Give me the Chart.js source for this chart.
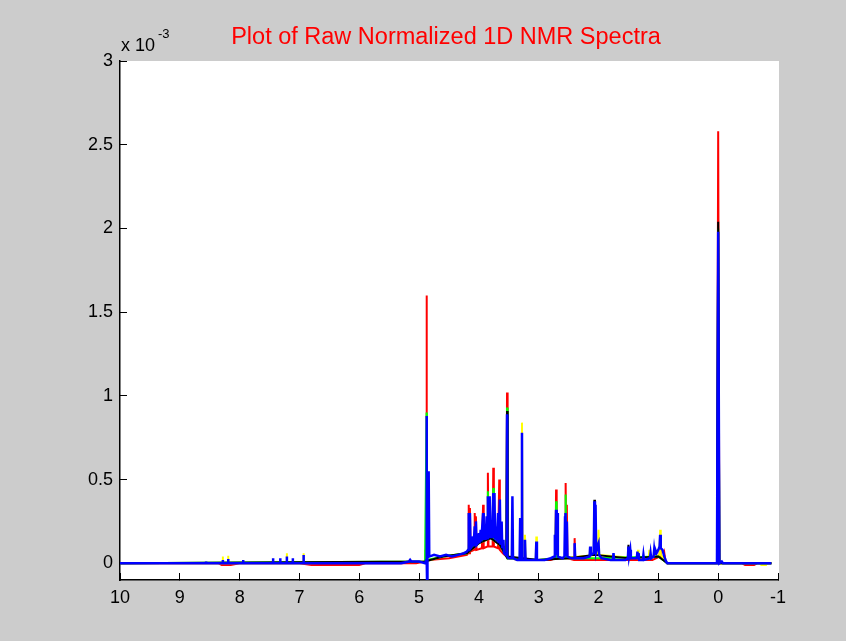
<!DOCTYPE html>
<html>
<head>
<meta charset="utf-8">
<title>Plot of Raw Normalized 1D NMR Spectra</title>
<script src="https://cdn.jsdelivr.net/npm/chart.js@4.4.1/dist/chart.umd.min.js"></script>
<style>
  html, body { margin: 0; padding: 0; background: #cccccc; }
  canvas { display: block; }
</style>
</head>
<body>
<canvas id="nmrChart" width="846" height="641"></canvas>
<script>
// Chemical shift (ppm) and intensity (x 10^-3) for each spectrum
const bluePpm = [10, 8.62, 8.56, 8.56, 8.56, 8.28, 8.28, 8.28, 8.19, 8.19, 8.19, 7.94, 7.94, 7.94, 7.44, 7.44, 7.44,
  7.32, 7.32, 7.32, 7.21, 7.21, 7.21, 7.11, 7.11, 7.11, 6.93, 6.93, 6.93,
  5.3, 5.17, 5.15, 5.13, 5.0, 4.9, 4.88, 4.875, 4.87, 4.865, 4.86, 4.84, 4.83, 4.75, 4.65, 4.55, 4.45, 4.35, 4.25, 4.2, 4.18,
  4.17, 4.165, 4.15, 4.14, 4.12, 4.1, 4.09, 4.07, 4.06, 4.05, 4.04, 4.02, 4.0, 3.99, 3.97, 3.96, 3.93, 3.92, 3.9, 3.89, 3.87, 3.86,
  3.85, 3.84, 3.82, 3.81, 3.79, 3.78, 3.76, 3.75, 3.74, 3.73, 3.71, 3.7, 3.68, 3.67, 3.65, 3.64, 3.62, 3.61, 3.59, 3.58, 3.55,
  3.535, 3.53, 3.525, 3.5, 3.45, 3.44, 3.43, 3.36, 3.32, 3.31, 3.3, 3.285, 3.28, 3.275, 3.24, 3.23, 3.22, 3.1, 3.05, 3.04, 3.03,
  2.9, 2.8, 2.74, 2.73, 2.72, 2.71, 2.7, 2.69, 2.68, 2.6, 2.57, 2.56, 2.555, 2.55, 2.54, 2.53, 2.52, 2.45, 2.41, 2.4, 2.39,
  2.25, 2.15, 2.14, 2.13, 2.08, 2.07, 2.06, 2.05, 2.04, 2.02, 2.0, 1.99, 1.95, 1.8, 1.76, 1.75, 1.74, 1.55, 1.51, 1.5, 1.49,
  1.47, 1.46, 1.4, 1.36, 1.35, 1.34, 1.33, 1.32, 1.26, 1.25, 1.24, 1.14, 1.13, 1.12, 1.08, 1.07, 1.06, 1.05, 1.03, 1.0, 0.98,
  0.97, 0.96, 0.93, 0.9, 0.87, 0.85, 0.02, 0, -0.02, -0.06, -0.08, -0.89]
const blueInt = [0, 0, 0, 0.01, 0, 0, 0.02, 0, 0, 0.025, 0, 0, 0.02, 0, 0, 0.03, 0,
  0, 0.03, 0, 0, 0.04, 0, 0, 0.03, 0, 0, 0.05, 0,
  0, 0.01, 0.02, 0.01, 0.01, 0, 0.02, 0.88, 0.02, -0.15, 0.03, 0.55, 0.04, 0.05, 0.04, 0.05, 0.04, 0.05, 0.06, 0.07, 0.08,
  0.3, 0.09, 0.3, 0.09, 0.1, 0.16, 0.1, 0.22, 0.11, 0.25, 0.11, 0.12, 0.18, 0.12, 0.2, 0.13, 0.3, 0.14, 0.22, 0.14, 0.28, 0.15,
  0.4, 0.15, 0.4, 0.15, 0.25, 0.15, 0.42, 0.15, 0.42, 0.14, 0.22, 0.13, 0.3, 0.12, 0.38, 0.11, 0.25, 0.09, 0.14, 0.06, 0.05,
  0.05, 0.89, 0.04, 0.03, 0.03, 0.4, 0.03, 0.02, 0.02, 0.27, 0.02, 0.02, 0.78, 0.02, 0.02, 0.14, 0.02, 0.02, 0.02, 0.13, 0.02,
  0.02, 0.03, 0.04, 0.17, 0.05, 0.32, 0.05, 0.3, 0.04, 0.03, 0.04, 0.28, 0.05, 0.3, 0.05, 0.25, 0.04, 0.03, 0.03, 0.12, 0.03,
  0.03, 0.04, 0.1, 0.05, 0.06, 0.37, 0.08, 0.35, 0.07, 0.1, 0.12, 0.05, 0.03, 0.02, 0.02, 0.06, 0.02, 0.02, 0.03, 0.1, 0.04,
  0.08, 0.03, 0.03, 0.03, 0.07, 0.03, 0.06, 0.02, 0.02, 0.05, 0.02, 0.03, 0.06, 0.03, 0.04, 0.08, 0.05, 0.08, 0.06, 0.08, 0.1,
  0.17, 0.09, 0.08, 0.04, 0.01, 0, 0, 1.98, 0, 0.01, 0, 0]

const redPpm = [10, 8.35, 8.3, 8.15, 8.0, 7.0, 6.8, 6.0, 5.9, 5.05, 4.9, 4.89, 4.88, 4.875, 4.87, 4.84, 4.5, 4.2, 4.18, 4.17, 4.16,
  4.15, 4.14, 4.08, 4.07, 4.06, 4.05, 4.04, 3.95, 3.93, 3.92, 3.86, 3.85, 3.84, 3.77, 3.76, 3.75, 3.68, 3.66, 3.65, 3.6, 3.54,
  3.53, 3.52, 3.3, 2.8, 2.72, 2.71, 2.7, 2.56, 2.55, 2.54, 2.53, 2.52, 2.41, 2.4, 2.39, 1.1, 0.98, 0.97, 0.96, 0.92, 0.9, 0.88,
  0.85, 0.02, 0, -0.02, -0.4, -0.45, -0.6, -0.65, -0.89]
const redInt = [0, 0, -0.01, -0.01, 0, 0, -0.01, -0.01, 0, 0, 0.01, 0.08, 0.02, 1.6, 0.02, 0.02, 0.03, 0.05, 0.06, 0.35, 0.06,
  0.33, 0.07, 0.08, 0.3, 0.08, 0.28, 0.08, 0.09, 0.35, 0.09, 0.1, 0.54, 0.1, 0.1, 0.57, 0.1, 0.09, 0.5, 0.08, 0.06, 0.04,
  1.02, 0.03, 0.02, 0.02, 0.03, 0.44, 0.03, 0.03, 0.48, 0.04, 0.35, 0.03, 0.02, 0.15, 0.02, 0.02, 0.04, 0.12, 0.04, 0.03, 0.06, 0.01,
  0, 0, 2.58, 0, 0, -0.01, -0.01, 0, 0]

const greenPpm = [10, 4.9, 4.875, 4.87, 4.6, 4.2, 4.17, 4.16, 4.15, 4.0, 3.86, 3.85, 3.84, 3.77, 3.76, 3.75, 3.65, 3.54, 3.53,
  3.52, 3.0, 2.72, 2.71, 2.7, 2.56, 2.55, 2.54, 2.0, 1.0, 0.85, 0.02, 0, -0.02, -0.89]
const greenInt = [0, 0.01, 0.9, 0.02, 0.04, 0.06, 0.08, 0.2, 0.09, 0.12, 0.15, 0.43, 0.15, 0.15, 0.45, 0.14, 0.11, 0.04, 0.93,
  0.03, 0.02, 0.03, 0.37, 0.03, 0.03, 0.41, 0.03, 0.03, 0.04, 0, 0, 2.0, 0, 0]

const yellowPpm = [10, 8.28, 8.28, 8.28, 8.19, 8.19, 8.19, 7.21, 7.21, 7.21, 6.93, 6.93, 6.93, 4.9, 4.6, 4.2, 4.0, 3.8, 3.65,
  3.5, 3.29, 3.28, 3.27, 3.24, 3.23, 3.22, 3.05, 3.04, 3.03, 2.01, 2.0, 1.99, 1.35, 1.34, 1.33, 1.16, 1.15, 1.14, 0.98, 0.97,
  0.96, 0.85, -0.7, -0.72, -0.8, -0.82, -0.89]
const yellowInt = [0, 0, 0.04, 0, 0, 0.045, 0, 0, 0.06, 0, 0, 0.06, 0, 0.01, 0.04, 0.06, 0.12, 0.15, 0.11,
  0.03, 0.02, 0.84, 0.02, 0.02, 0.17, 0.02, 0.02, 0.16, 0.02, 0.05, 0.2, 0.05, 0.03, 0.08, 0.03, 0.03, 0.08, 0.03, 0.05, 0.2,
  0.05, 0, 0, -0.01, -0.01, 0, 0]

const blackPpm = [10, 4.9, 4.6, 4.2, 4.0, 3.8, 3.65, 3.54, 3.53, 3.52, 3.0, 2.5, 2.08, 2.07, 2.06, 1.51, 1.5, 1.49, 1.0,
  0.85, 0.02, 0, -0.02, -0.89]
const blackInt = [0, 0.01, 0.04, 0.06, 0.12, 0.15, 0.11, 0.04, 0.91, 0.04, 0.02, 0.03, 0.05, 0.38, 0.05, 0.03, 0.11, 0.03, 0.04,
  0, 0, 2.04, 0, 0]

const xTickValues = [10, 9, 8, 7, 6, 5, 4, 3, 2, 1, 0, -1]
const yTickValues = [0, 0.5, 1, 1.5, 2, 2.5, 3]

const titleText = "Plot of Raw Normalized 1D NMR Spectra"
const fontFamily = "'Liberation Sans', Arial, sans-serif"

function toPoints(ppm, values) {
  return ppm.map((x, i) => ({ x: x, y: values[i] }))
}

function spectrum(ppm, values, color, width) {
  return {
    data: toPoints(ppm, values),
    borderColor: color,
    backgroundColor: color,
    borderWidth: width,
    pointRadius: 0,
    tension: 0,
    fill: false,
  }
}

// gray figure + white axes box, like a MATLAB figure window
const figureBackground = {
  id: "figureBackground",
  beforeDraw(chart) {
    const { ctx, chartArea } = chart
    ctx.save()
    ctx.fillStyle = "#cccccc"
    ctx.fillRect(0, 0, chart.width, chart.height)
    ctx.fillStyle = "#ffffff"
    ctx.fillRect(chartArea.left, chartArea.top, chartArea.right - chartArea.left + 1, chartArea.bottom - chartArea.top)
    ctx.restore()
  },
}

// title and the "x 10^-3" exponent label
const figureText = {
  id: "figureText",
  afterDraw(chart) {
    const { ctx, chartArea } = chart
    ctx.save()
    ctx.fillStyle = "#ff0000"
    ctx.font = "23.5px " + fontFamily
    ctx.textAlign = "center"
    ctx.textBaseline = "alphabetic"
    ctx.fillText(titleText, (chartArea.left + chartArea.right) / 2 - 3, 44)

    ctx.fillStyle = "#000000"
    ctx.textAlign = "left"
    ctx.font = "18px " + fontFamily
    ctx.fillText("x 10", chartArea.left + 1, 51)
    ctx.font = "13px " + fontFamily
    ctx.fillText("-3", chartArea.left + 38, 38)
    ctx.restore()
  },
}

const ctx = document.getElementById("nmrChart").getContext("2d")
new Chart(ctx, {
  type: "line",
  data: {
    datasets: [
      spectrum(bluePpm, blueInt, "#0000ff", 2.5),
      spectrum(blackPpm, blackInt, "#000000", 2),
      spectrum(greenPpm, greenInt, "#00ff00", 2),
      spectrum(yellowPpm, yellowInt, "#ffff00", 2),
      spectrum(redPpm, redInt, "#ff0000", 2),
    ],
  },
  options: {
    responsive: false,
    animation: false,
    layout: {
      padding: { left: 0, right: 68, top: 61, bottom: 0 },
    },
    plugins: {
      legend: { display: false },
      tooltip: { enabled: false },
    },
    scales: {
      x: {
        type: "linear",
        reverse: true,
        min: -1,
        max: 10,
        afterBuildTicks: (scale) => {
          scale.ticks = xTickValues.map((v) => ({ value: v }))
        },
        afterFit: (scale) => {
          scale.height = 61
        },
        ticks: {
          autoSkip: false,
          maxRotation: 0,
          padding: 14,
          color: "#000000",
          font: { family: fontFamily, size: 18 },
          callback: (v) => String(v),
        },
        grid: {
          drawOnChartArea: false,
          drawTicks: true,
          tickLength: -7,
          color: "#000000",
          lineWidth: 1,
        },
        border: { display: true, color: "#000000", width: 1.5 },
      },
      y: {
        type: "linear",
        min: -0.1,
        max: 3,
        afterBuildTicks: (scale) => {
          scale.ticks = yTickValues.map((v) => ({ value: v }))
        },
        afterFit: (scale) => {
          scale.width = 120
        },
        ticks: {
          padding: 14,
          color: "#000000",
          font: { family: fontFamily, size: 18 },
          callback: (v) => String(v),
        },
        grid: {
          drawOnChartArea: false,
          drawTicks: true,
          tickLength: -7,
          color: "#000000",
          lineWidth: 1,
        },
        border: { display: true, color: "#000000", width: 1.5 },
      },
    },
  },
  plugins: [figureBackground, figureText],
})
</script>
</body>
</html>
